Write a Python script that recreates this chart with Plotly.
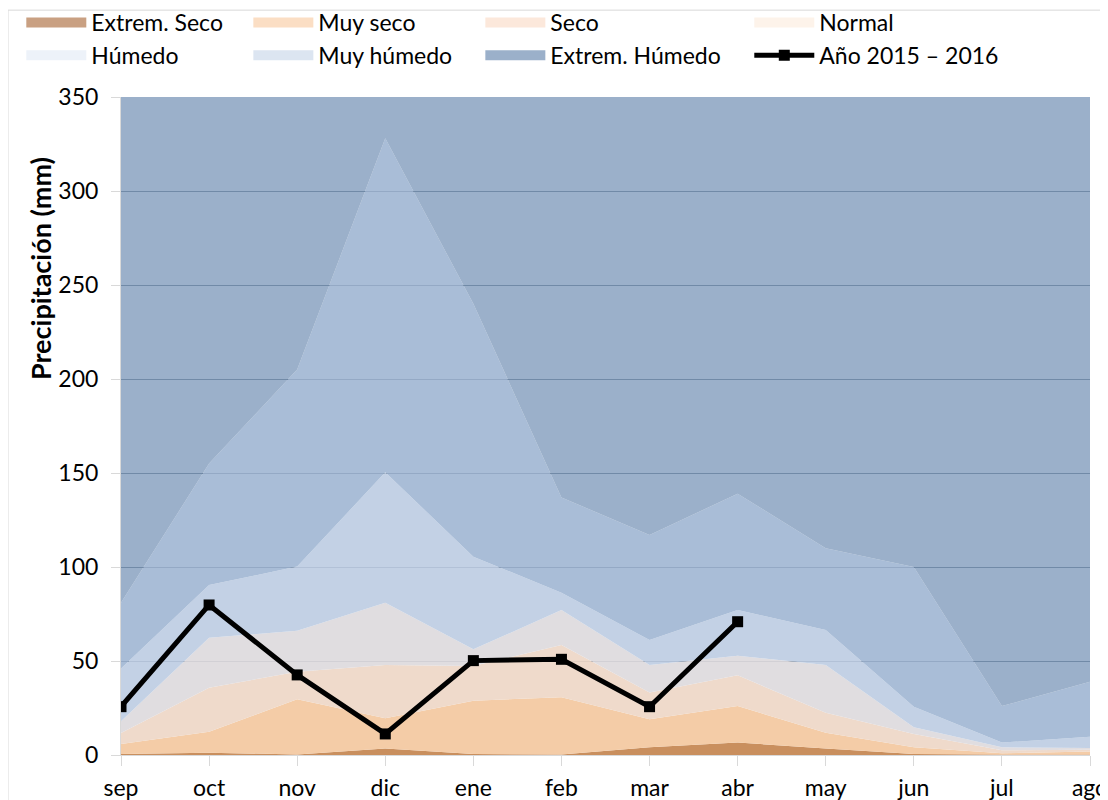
import plotly.graph_objects as go

months = ["sep", "oct", "nov", "dic", "ene", "feb", "mar", "abr", "may", "jun", "jul", "ago"]

# upper boundary (mm) of each precipitation class band
extrem_seco_top = [0.5, 1.2, 0.3, 3.5, 0.5, 0.3, 4.1, 6.6, 3.5, 0.5, 0.2, 0.2]
muy_seco_top = [5.9, 12.4, 29.6, 19.5, 28.9, 30.7, 19.0, 26.0, 11.9, 4.1, 0.9, 1.8]
seco_top = [11.7, 35.8, 44.3, 47.9, 47.3, 58.5, 33.2, 42.4, 22.5, 11.2, 2.5, 2.8]
normal_top = [18.0, 62.4, 66.1, 81.0, 56.2, 77.1, 47.9, 52.8, 47.9, 14.7, 4.1, 3.7]
humedo_top = [46.0, 90.4, 100.2, 150.4, 105.5, 86.3, 61.2, 77.1, 66.5, 25.7, 6.6, 9.7]
muy_humedo_top = [81.0, 155.0, 205.0, 328.0, 240.0, 137.0, 117.0, 139.0, 110.0, 100.0, 26.0, 39.0]
extrem_humedo_top = [350, 350, 350, 350, 350, 350, 350, 350, 350, 350, 350, 350]

anio_2015_2016 = [25.7, 79.8, 42.6, 11.2, 50.2, 50.9, 25.7, 70.9, None, None, None, None]

band_names = ["Extrem. Seco", "Muy seco", "Seco", "Normal", "Húmedo", "Muy húmedo", "Extrem. Húmedo"]
band_tops = [extrem_seco_top, muy_seco_top, seco_top, normal_top, humedo_top, muy_humedo_top, extrem_humedo_top]
band_fill = [
    "rgb(201,143,94)",
    "rgba(243,201,162,0.94)",
    "rgba(238,215,199,0.93)",
    "rgba(221,218,221,0.92)",
    "rgba(188,204,226,0.90)",
    "rgba(157,180,210,0.88)",
    "rgba(123,151,185,0.76)",
]
legend_fill = ["#c9a082", "#fbdec4", "#fce8db", "#fdf3ea", "#edf2f9", "#dce5f1", "#9bb0ca"]
# legend column (one small legend per column, as in the original 4-column layout)
band_legend = ["legend", "legend2", "legend3", "legend4", "legend", "legend2", "legend3"]
line_legend = "legend4"
legend_col_x = [0.0121, 0.2185, 0.4294, 0.6739]

FONT = "Lato"

fig = go.Figure()

for i, (name, top) in enumerate(zip(band_names, band_tops)):
    fig.add_trace(go.Scatter(
        x=months, y=top, name=name, mode="lines",
        line=dict(width=0, color=band_fill[i]),
        fill="tozeroy" if i == 0 else "tonexty",
        fillcolor=band_fill[i],
        showlegend=False, hoverinfo="skip",
    ))

for i, name in enumerate(band_names):
    fig.add_trace(go.Scatter(
        x=[None], y=[None], name=name, mode="lines",
        line=dict(width=15, color=legend_fill[i]),
        showlegend=True, legend=band_legend[i],
    ))

fig.add_trace(go.Scatter(
    x=months, y=anio_2015_2016, name="Año 2015 – 2016",
    mode="lines+markers",
    line=dict(color="black", width=5),
    marker=dict(symbol="square", size=11, color="black"),
    connectgaps=False, legend=line_legend,
))

legend_style = dict(
    orientation="v", xref="container", yref="paper",
    y=1.146, xanchor="left", yanchor="top",
    itemwidth=60, tracegroupgap=0,
    font=dict(family=FONT, size=23, color="black"),
    traceorder="normal", bgcolor="rgba(0,0,0,0)",
)

fig.update_layout(
    width=1100, height=792,
    margin=dict(l=113, r=18, t=89, b=45, autoexpand=False),
    paper_bgcolor="white", plot_bgcolor="white",
    font=dict(family=FONT, size=23, color="black"),
    legend=dict(legend_style, x=legend_col_x[0]),
    legend2=dict(legend_style, x=legend_col_x[1]),
    legend3=dict(legend_style, x=legend_col_x[2]),
    legend4=dict(legend_style, x=legend_col_x[3]),
    xaxis=dict(
        type="category", categoryorder="array", categoryarray=months,
        range=[0, 11], showgrid=False,
        ticks="outside", ticklen=10, tickcolor="#d9d9d9",
        showline=True, linecolor="#d9d9d9", linewidth=1,
        tickfont=dict(family=FONT, size=23, color="black"),
        ticklabelstandoff=2, zeroline=False,
    ),
    yaxis=dict(
        range=[0, 350], dtick=50, tick0=0,
        showgrid=True, gridcolor="rgb(80,95,110)", gridwidth=1,
        ticks="outside", ticklen=9, tickcolor="#d9d9d9",
        showline=True, linecolor="#d9d9d9", linewidth=1,
        tickfont=dict(family=FONT, size=23, color="black"),
        ticklabelstandoff=8, zeroline=False,
    ),
    annotations=[dict(
        text="<b>Precipitación (mm)</b>", textangle=-90,
        xref="paper", yref="paper", x=-0.0836, y=0.74,
        xanchor="center", yanchor="middle", showarrow=False,
        font=dict(family=FONT, size=27, color="black"),
    )],
    shapes=[dict(
        type="rect", xref="paper", yref="paper",
        x0=-0.1166, x1=1.3, y0=-0.3, y1=1.132,
        line=dict(color="#d9d9d9", width=1), fillcolor="rgba(0,0,0,0)",
        layer="below",
    )],
)

fig.write_html("out.html")
